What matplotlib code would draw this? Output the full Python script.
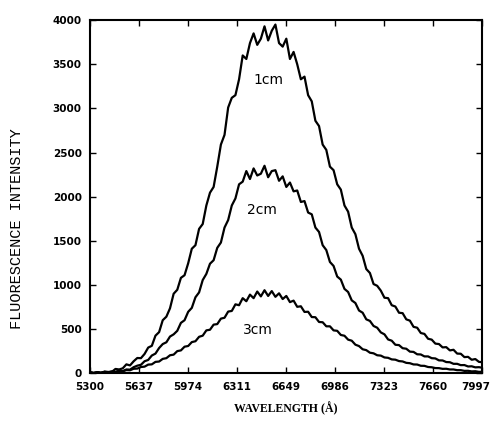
import matplotlib
matplotlib.use('Agg')
import numpy as np
import matplotlib.pyplot as plt
import matplotlib.transforms as mtransforms

# wavelength samples (Angstrom), every ~25 A
wavelength = [5300, 5325, 5350, 5375, 5400, 5425, 5450, 5475, 5500, 5525,
              5550, 5575, 5600, 5625, 5650, 5675, 5700, 5725, 5750, 5775,
              5800, 5825, 5850, 5875, 5900, 5925, 5950, 5975, 6000, 6025,
              6050, 6075, 6100, 6125, 6150, 6175, 6200, 6225, 6250, 6275,
              6300, 6325, 6350, 6375, 6400, 6425, 6450, 6475, 6500, 6525,
              6550, 6575, 6600, 6625, 6650, 6675, 6700, 6725, 6750, 6775,
              6800, 6825, 6850, 6875, 6900, 6925, 6950, 6975, 7000, 7025,
              7050, 7075, 7100, 7125, 7150, 7175, 7200, 7225, 7250, 7275,
              7300, 7325, 7350, 7375, 7400, 7425, 7450, 7475, 7500, 7525,
              7550, 7575, 7600, 7625, 7650, 7675, 7700, 7725, 7750, 7775,
              7800, 7825, 7850, 7875, 7900, 7925, 7950, 7975, 7997]

intensity_1cm = [12, 2, 10, 3, 18, 14, 15, 48, 42, 55,
                 100, 88, 135, 172, 170, 218, 290, 310, 425, 465,
                 600, 640, 735, 900, 945, 1080, 1110, 1245, 1410, 1450,
                 1635, 1690, 1900, 2045, 2110, 2340, 2590, 2700, 3010, 3120,
                 3150, 3330, 3600, 3560, 3740, 3850, 3720, 3790, 3930, 3770,
                 3880, 3950, 3740, 3700, 3790, 3560, 3640, 3500, 3330, 3360,
                 3150, 3080, 2860, 2800, 2590, 2530, 2340, 2300, 2140, 2080,
                 1900, 1830, 1650, 1575, 1410, 1330, 1180, 1135, 1010, 990,
                 935, 855, 850, 770, 755, 685, 680, 610, 595, 525,
                 515, 455, 445, 390, 380, 335, 330, 292, 295, 258,
                 265, 222, 220, 182, 185, 152, 160, 128, 125]

intensity_2cm = [10, 2, 12, 4, 15, 10, 18, 14, 28, 22,
                 42, 40, 68, 85, 95, 135, 150, 200, 222, 285,
                 330, 350, 415, 440, 480, 570, 600, 695, 740, 860,
                 915, 1055, 1125, 1240, 1280, 1420, 1480, 1650, 1735, 1900,
                 1980, 2140, 2170, 2290, 2200, 2320, 2240, 2260, 2350, 2220,
                 2290, 2300, 2180, 2230, 2110, 2160, 2060, 2070, 1940, 1950,
                 1820, 1800, 1650, 1600, 1450, 1395, 1260, 1215, 1095, 1060,
                 955, 920, 825, 795, 710, 685, 610, 592, 535, 515,
                 462, 440, 382, 368, 322, 318, 283, 277, 244, 241,
                 214, 212, 190, 190, 170, 167, 145, 144, 126, 124,
                 106, 106, 91, 92, 76, 78, 66, 68, 62]

intensity_3cm = [8, 2, 10, 5, 13, 9, 18, 13, 24, 22,
                 35, 33, 50, 52, 70, 74, 97, 100, 128, 132,
                 162, 170, 203, 210, 250, 258, 300, 308, 352, 362,
                 412, 425, 485, 492, 550, 556, 618, 628, 698, 705,
                 780, 770, 850, 815, 890, 850, 925, 870, 940, 875,
                 930, 865, 905, 840, 875, 805, 822, 752, 758, 694,
                 696, 636, 634, 580, 577, 531, 531, 485, 480, 433,
                 424, 380, 368, 323, 307, 271, 261, 232, 225, 203,
                 199, 178, 174, 156, 153, 137, 133, 117, 113, 99,
                 98, 84, 83, 70, 67, 58, 57, 49, 50, 42,
                 42, 34, 34, 26, 27, 20, 22, 15, 16]

curve_labels = ['1cm', '2cm', '3cm']
label_pos = [(6525, 3320), (6483, 1850), (6456, 490)]

xticks = [5300, 5637, 5974, 6311, 6649, 6986, 7323, 7660, 7997]
yticks = [0, 500, 1000, 1500, 2000, 2500, 3000, 3500, 4000]

fig = plt.figure(figsize=(4.92, 4.38), dpi=100)
ax = fig.add_axes([0.183, 0.148, 0.797, 0.806])

for series in (intensity_1cm, intensity_2cm, intensity_3cm):
    ax.plot(wavelength, series, color='black', linewidth=1.6)

for txt, (xx, yy) in zip(curve_labels, label_pos):
    ax.text(xx, yy, txt, fontsize=10, ha='center', va='center',
            family='DejaVu Sans', color='black')

ax.set_xlim(5300, 7997)
ax.set_ylim(0, 4000)
ax.set_xticks(xticks)
ax.set_yticks(yticks)
ax.set_xticklabels([str(t) for t in xticks], fontsize=7.5, fontweight='bold')
ax.set_yticklabels([str(t) for t in yticks], fontsize=7.5, fontweight='bold')
ax.tick_params(direction='in', length=4, width=1, top=True, right=True, pad=6)

# last x label sits a bit inside, as on the scan
last = ax.get_xticklabels()[-1]
last.set_transform(last.get_transform() +
                   mtransforms.ScaledTranslation(-0.06, 0, fig.dpi_scale_trans))

for sp in ax.spines.values():
    sp.set_linewidth(1.5)

ax.set_ylabel('FLUORESCENCE INTENSITY', fontsize=11,
              family=['Liberation Mono', 'DejaVu Sans Mono'])
ax.yaxis.set_label_coords(-0.168, 0.41)
ax.set_xlabel('WAVELENGTH (Å)', fontsize=8.5, fontweight='bold',
              family=['Liberation Serif', 'DejaVu Serif'])
ax.xaxis.set_label_coords(0.5, -0.08)

plt.savefig('out.png', dpi=100)
plt.close('all')
